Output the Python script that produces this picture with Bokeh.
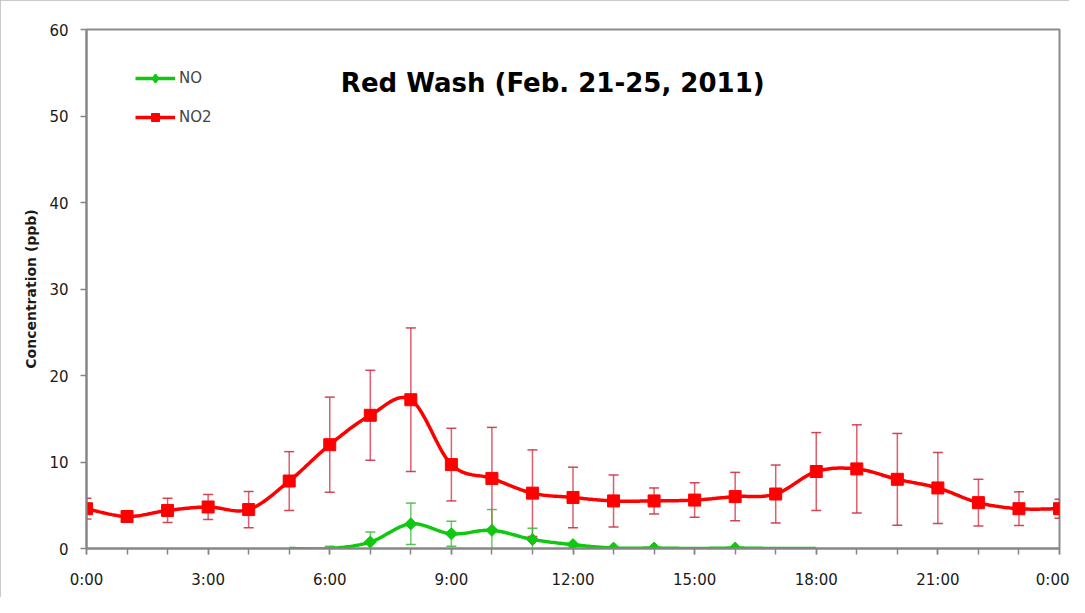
import numpy as np
from bokeh.plotting import figure
from bokeh.models import (ColumnDataSource, Whisker, TeeHead, FixedTicker, Legend,
                          LegendItem, Label, Range1d)
from bokeh.embed import file_html
from bokeh.resources import INLINE

# ---------------- data ----------------
hours = list(range(25))
no2 = [4.6, 3.7, 4.4, 4.8, 4.5, 7.8, 12.0, 15.4, 17.2, 9.7, 8.1, 6.4, 5.9,
       5.5, 5.5, 5.6, 6.0, 6.3, 8.9, 9.2, 8.0, 7.0, 5.3, 4.6, 4.6]
no2_err = [1.2, 0.4, 1.4, 1.45, 2.1, 3.4, 5.5, 5.2, 8.3, 4.2, 5.9, 5.0, 3.5,
           3.0, 1.5, 2.0, 2.8, 3.35, 4.5, 5.1, 5.3, 4.1, 2.7, 1.95, 1.1]

no_hours = [5, 6, 7, 8, 9, 10, 11, 12, 13, 14, 15, 16, 17, 18]
no = [0.0, 0.0, 0.75, 2.85, 1.7, 2.1, 1.05, 0.45, 0.05, 0.05, 0.0, 0.05, 0.0, 0.0]
no_err = [0.0, 0.25, 1.15, 2.4, 1.45, 2.4, 1.3, 0.0, 0.0, 0.0, 0.0, 0.0, 0.0, 0.0]

x_major = [0, 3, 6, 9, 12, 15, 18, 21, 24]
x_labels = ["0:00", "3:00", "6:00", "9:00", "12:00", "15:00", "18:00", "21:00", "0:00"]
y_ticks = [0, 10, 20, 30, 40, 50, 60]

title_text = "Red Wash (Feb. 21-25, 2011)"
y_title = "Concentration (ppb)"

RED = "#ff0000"
GREEN = "#10c810"
FONT = "DejaVu Sans"


def smooth(xs, ys, n=24):
    """Catmull-Rom smoothing (like Excel's smoothed line) for drawing only."""
    xs = np.asarray(xs, float)
    ys = np.asarray(ys, float)
    px = np.concatenate([[xs[0]], xs, [xs[-1]]])
    py = np.concatenate([[ys[0]], ys, [ys[-1]]])
    outx, outy = [], []
    for i in range(1, len(px) - 2):
        p0x, p1x, p2x, p3x = px[i - 1], px[i], px[i + 1], px[i + 2]
        p0y, p1y, p2y, p3y = py[i - 1], py[i], py[i + 1], py[i + 2]
        c1x = p1x + (p2x - p0x) / 6.0
        c1y = p1y + (p2y - p0y) / 6.0
        c2x = p2x - (p3x - p1x) / 6.0
        c2y = p2y - (p3y - p1y) / 6.0
        t = np.linspace(0, 1, n, endpoint=(i == len(px) - 3))
        bx = (1 - t) ** 3 * p1x + 3 * (1 - t) ** 2 * t * c1x + 3 * (1 - t) * t ** 2 * c2x + t ** 3 * p2x
        by = (1 - t) ** 3 * p1y + 3 * (1 - t) ** 2 * t * c1y + 3 * (1 - t) * t ** 2 * c2y + t ** 3 * p2y
        outx.extend(bx)
        outy.extend(by)
    return outx, outy


p = figure(width=1069, height=597, output_backend="svg", toolbar_location=None,
           x_range=Range1d(0, 24), y_range=Range1d(0, 60),
           min_border_left=86, min_border_right=10, min_border_top=29, min_border_bottom=49)
p.styles = {"outline": "1px solid #b9b9b9", "outline-offset": "-1px"}

p.xgrid.visible = False
p.ygrid.visible = False
p.outline_line_color = "#8c8c8c"
p.outline_line_width = 2
p.background_fill_color = "white"
p.border_fill_color = "white"

# ---------------- error bars ----------------
no2_src = ColumnDataSource(dict(x=hours, y=no2,
                                lo=[v - e for v, e in zip(no2, no2_err)],
                                hi=[v + e for v, e in zip(no2, no2_err)]))
w1 = Whisker(base="x", upper="hi", lower="lo", source=no2_src, dimension="height",
             line_color="#d42a3a", line_alpha=0.75, line_width=1.5, level="underlay",
             upper_head=TeeHead(size=10, line_color="#c8283a", line_width=1.5, line_alpha=0.85),
             lower_head=TeeHead(size=10, line_color="#c8283a", line_width=1.5, line_alpha=0.85))
p.add_layout(w1)

sel = [i for i, e in enumerate(no_err) if e > 0]
no_err_src = ColumnDataSource(dict(x=[no_hours[i] for i in sel],
                                   lo=[no[i] - no_err[i] for i in sel],
                                   hi=[no[i] + no_err[i] for i in sel]))
w2 = Whisker(base="x", upper="hi", lower="lo", source=no_err_src, dimension="height",
             line_color="#3cb83c", line_alpha=0.75, line_width=1.5, level="underlay",
             upper_head=TeeHead(size=10, line_color="#3cb83c", line_width=1.5, line_alpha=0.85),
             lower_head=TeeHead(size=10, line_color="#3cb83c", line_width=1.5, line_alpha=0.85))
p.add_layout(w2)

# ---------------- lines & markers ----------------
sx, sy = smooth(no_hours, no)
no_line = p.line(sx, sy, line_color=GREEN, line_width=3.5)
mk = [i for i, v in enumerate(no) if v > 0]
no_pts = p.scatter([no_hours[i] for i in mk], [no[i] for i in mk], marker="square",
                   angle=np.pi / 4, size=8.5, fill_color=GREEN, line_color=GREEN)
# legend-only diamond glyph (not drawn in the plot area)
no_leg = p.scatter([no_hours[i] for i in mk], [no[i] for i in mk], marker="diamond",
                   size=18, fill_color=GREEN, line_color=GREEN, line_width=2, visible=False)

sx2, sy2 = smooth(hours, no2)
no2_line = p.line(sx2, sy2, line_color=RED, line_width=3.5)
no2_pts = p.scatter(hours, no2, marker="square", size=12, fill_color=RED, line_color=RED)

# ---------------- axes ----------------
for ax in (p.xaxis[0], p.yaxis[0]):
    ax.axis_line_color = "#868686"
    ax.axis_line_width = 2
    ax.major_tick_line_color = "#868686"
    ax.minor_tick_line_color = "#868686"
    ax.major_tick_line_width = 1.5
    ax.minor_tick_line_width = 1.5
    ax.major_tick_in = 0
    ax.major_tick_out = 6
    ax.minor_tick_in = 0
    ax.minor_tick_out = 6
    ax.major_label_text_font = FONT
    ax.major_label_text_font_size = "15px"
    ax.major_label_text_color = "#1a1a1a"

p.xaxis.ticker = FixedTicker(ticks=x_major, minor_ticks=hours)
p.xaxis.major_label_overrides = {t: l for t, l in zip(x_major, x_labels)}
p.xaxis.major_label_standoff = 16

p.yaxis.ticker = FixedTicker(ticks=y_ticks, minor_ticks=[])
p.yaxis.major_label_standoff = 12
p.yaxis.axis_label = y_title
p.yaxis.axis_label_text_font = FONT
p.yaxis.axis_label_text_font_style = "bold"
p.yaxis.axis_label_text_font_size = "14px"
p.yaxis.axis_label_text_color = "#1a1a1a"
p.yaxis.axis_label_standoff = 7

# ---------------- title ----------------
p.add_layout(Label(x=11.5, y=53.8, text=title_text, text_align="center",
                   text_baseline="alphabetic", text_font=FONT,
                   text_font_style="bold", text_font_size="26px", text_color="black"))

# ---------------- legend ----------------
legend = Legend(items=[LegendItem(label="NO", renderers=[no_line, no_leg]),
                       LegendItem(label="NO2", renderers=[no2_line, no2_pts])],
                location=(49, 421), orientation="vertical",
                glyph_width=40, glyph_height=20, label_height=20,
                spacing=19, padding=0, margin=0, label_standoff=4,
                label_text_font=FONT, label_text_font_size="15px",
                border_line_alpha=0, background_fill_alpha=0)
p.add_layout(legend)

open("out.html", "w").write(file_html(p, INLINE))
